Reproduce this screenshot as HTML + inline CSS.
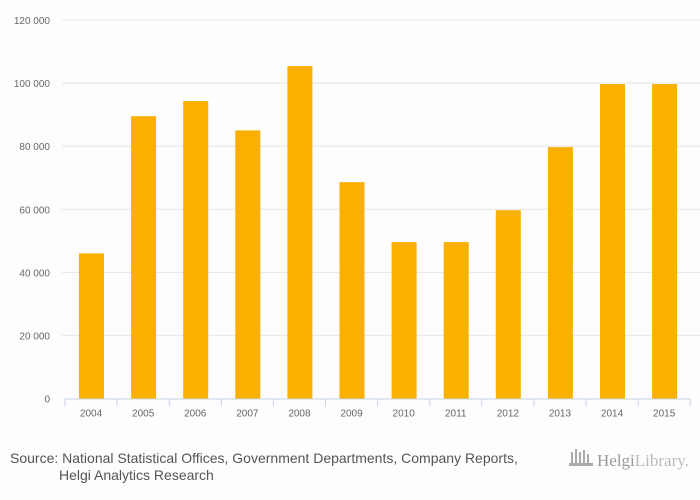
<!DOCTYPE html>
<html><head><meta charset="utf-8"><style>
body{margin:0;background:#fff;}
svg{display:block;font-family:"Liberation Sans",sans-serif;}
</style></head><body>
<svg id="chart" width="700" height="500">
<rect width="700" height="500" fill="#fdfdfd"/>
<g id="grid"></g><g id="bars"></g><g id="axes"></g>
<text x="10" y="463" font-size="14" fill="#555">Source: National Statistical Offices, Government Departments, Company Reports,</text>
<text x="59" y="480" font-size="14" fill="#555">Helgi Analytics Research</text>
<g>
<g fill="#aaa"><rect x="571" y="452" width="2" height="14"/><rect x="575" y="449" width="2" height="17"/><rect x="579" y="452" width="2" height="14"/><rect x="583" y="450" width="2" height="16"/><rect x="587" y="454" width="2" height="12"/><rect x="569" y="463" width="24" height="3"/></g>
<text x="597" y="466" font-size="17" fill="#999" font-family="Liberation Serif,serif">Helgi<tspan fill="#bbb">Library.</tspan></text>
</g>
</svg>
<script>
const categories=["2004","2005","2006","2007","2008","2009","2010","2011","2012","2013","2014","2015"];
const values=[46000,89500,94300,85000,105400,68600,49600,49600,59700,79700,99700,99700];
const yTicks=[0,20000,40000,60000,80000,100000,120000];
const yTickLabels=["0","20 000","40 000","60 000","80 000","100 000","120 000"];
const NS="http://www.w3.org/2000/svg";
const x0=65,step=52.1,y0=398.5,yTop=20,yMax=120000;
function y(v){return y0-(v/yMax)*(y0-yTop);}
function x(i){return x0+i*step;}
function mk(tag,attrs,parent){const e=document.createElementNS(NS,tag);for(const k in attrs)e.setAttribute(k,attrs[k]);document.getElementById(parent).appendChild(e);return e;}
yTicks.forEach((t,i)=>{
 if(t>0){const g=mk("line",{x1:62,x2:700,y1:y(t),y2:y(t),stroke:"#e6e6e6","stroke-width":1},"grid");
 
 }
 const l=mk("text",{x:50,y:y(t)+4,"text-anchor":"end","font-size":10,fill:"#666"},"axes");
 l.textContent=yTickLabels[i];
 
 
});
values.forEach((v,i)=>{
 const b=mk("rect",{x:x(i)+14,y:y(v),width:25,height:y0-y(v),fill:"#f9b000"},"bars");
 
 
});
const ax=mk("line",{x1:x0,x2:x(12),y1:y0+0.5,y2:y0+0.5,stroke:"#c8d3e6","stroke-width":1},"axes");


for(let i=0;i<=12;i++){const t=mk("line",{x1:x(i),x2:x(i),y1:y0,y2:y0+8,stroke:"#c8d3e6"},"axes");
 
 }
categories.forEach((c,i)=>{
 const l=mk("text",{x:x(i)+step/2,y:y0+18,"text-anchor":"middle","font-size":10,fill:"#666"},"axes");
 l.textContent=c;
 
 
});
</script>
</body></html>
